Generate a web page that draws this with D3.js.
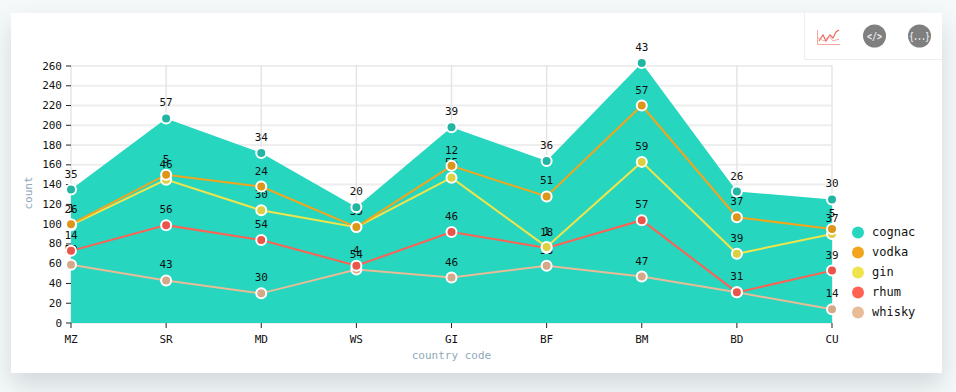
<!DOCTYPE html>
<html>
<head>
<meta charset="utf-8">
<script src="https://cdnjs.cloudflare.com/ajax/libs/d3/7.8.5/d3.min.js"></script>
<style>
html, body { margin: 0; padding: 0; width: 956px; height: 392px; overflow: hidden; background: #f5f9fa; }
#card { position: absolute; left: 11px; top: 13px; width: 931px; height: 360px; background: #fff;
        box-shadow: 0 12px 24px rgba(70, 85, 90, .2); }
svg { position: absolute; left: 0; top: 0; }
text { font-family: "DejaVu Sans Mono", monospace; }
</style>
</head>
<body>
<div id="card"></div>
<svg id="chart" width="956" height="392"></svg>
<script>
// values, the lines are stacked from whisky upwards
const countries = ["MZ", "SR", "MD", "WS", "GI", "BF", "BM", "BD", "CU"];
const whisky = [59, 43, 30, 54, 46, 58, 47, 31, 14];
const rhum   = [14, 56, 54, 4, 46, 18, 57, 0, 39];
const gin    = [26, 46, 30, 39, 55, 1, 59, 39, 37];
const vodka  = [1, 5, 24, 0, 12, 51, 57, 37, 5];
const cognac = [35, 57, 34, 20, 39, 36, 43, 26, 30];

const yTicks = d3.range(0, 261, 20);
const legendNames = ["cognac", "vodka", "gin", "rhum", "whisky"];
const stackOrder = ["whisky", "rhum", "gin", "vodka", "cognac"];
const colors = {cognac: "#26d6bf", vodka: "#f2a51d", gin: "#f0e44c", rhum: "#ff6153", whisky: "#e8bc97"};
const pointColors = {cognac: "#22b5a3", vodka: "#dc971b", gin: "#dccf40", rhum: "#ea544b", whisky: "#d4a98a"};

const rows = countries.map((c, i) => ({
    country: c, whisky: whisky[i], rhum: rhum[i], gin: gin[i], vodka: vodka[i], cognac: cognac[i]
}));
const series = d3.stack().keys(stackOrder)(rows);

const svg = d3.select("#chart");
const x = d3.scalePoint().domain(countries).range([71, 832]);
const y = d3.scaleLinear().domain([0, 260]).range([323, 66]);

// grid
svg.append("g").selectAll("line").data(yTicks).join("line")
    .attr("x1", 71).attr("x2", 832)
    .attr("y1", d => y(d)).attr("y2", d => y(d))
    .attr("stroke", "#eeeeee").attr("stroke-width", 2);
svg.append("g").selectAll("line").data(countries).join("line")
    .attr("x1", d => x(d)).attr("x2", d => x(d))
    .attr("y1", 65).attr("y2", 323)
    .attr("stroke", "#e4e4e4").attr("stroke-width", 1.4);

// only the top layer has a fill, it reaches down to zero
const topLayer = series[series.length - 1];
svg.append("path")
    .datum(topLayer)
    .attr("fill", colors.cognac)
    .attr("d", d3.area()
        .x(d => x(d.data.country))
        .y0(y(0))
        .y1(d => y(d[1])));

// axes
const xAxis = svg.append("g").attr("transform", "translate(0,323)")
    .call(d3.axisBottom(x).tickSize(5).tickPadding(7).offset(0));
const yAxis = svg.append("g").attr("transform", "translate(71,0)")
    .call(d3.axisLeft(y).tickValues(yTicks).tickSize(5).tickPadding(4).offset(0));
[xAxis, yAxis].forEach(a => {
    a.select(".domain").remove();
    a.selectAll("text").attr("font-size", 11).attr("font-family", "DejaVu Sans Mono").attr("fill", "#111");
    a.selectAll("line").attr("stroke", "#222");
});

svg.append("text").attr("x", 451.5).attr("y", 359).attr("text-anchor", "middle")
    .attr("font-size", 11).attr("fill", "#8fa9ba").text("country code");
svg.append("text").attr("transform", "translate(32,193) rotate(-90)").attr("text-anchor", "middle")
    .attr("font-size", 11).attr("fill", "#8fa9ba").text("count");

// lines
const line = d3.line().x(d => x(d.data.country)).y(d => y(d[1]));
series.forEach(s => {
    if (s.key === "cognac") return;
    svg.append("path").datum(s)
        .attr("fill", "none")
        .attr("stroke", colors[s.key])
        .attr("stroke-width", 2)
        .attr("d", line);
});

// value labels sit under the points, so neighbours hide some of them
series.forEach(s => {
    svg.append("g").selectAll("text").data(s.filter(d => d[1] > d[0])).join("text")
        .attr("x", d => x(d.data.country))
        .attr("y", d => y(d[1]) - 12)
        .attr("text-anchor", "middle")
        .attr("font-size", 11)
        .attr("fill", "#111")
        .text(d => d[1] - d[0]);
});

series.forEach(s => {
    svg.append("g").selectAll("circle").data(s).join("circle")
        .attr("cx", d => x(d.data.country))
        .attr("cy", d => y(d[1]))
        .attr("r", 5)
        .attr("fill", pointColors[s.key])
        .attr("stroke", "#fff")
        .attr("stroke-width", 2);
});

// legend
const legendY = d3.scalePoint().domain(legendNames).range([232.5, 312.5]);
const legend = svg.append("g").selectAll("g").data(legendNames).join("g")
    .attr("transform", d => "translate(858," + legendY(d) + ")");
legend.append("circle").attr("r", 6).attr("fill", d => colors[d]);
legend.append("text").attr("x", 14).attr("y", 3).attr("font-size", 12).attr("fill", "#111").text(d => d);

// toolbox top right
const tools = svg.append("g");
tools.append("path").attr("d", "M804.5 13V59.5H942").attr("fill", "none").attr("stroke", "#eee");
tools.append("path").attr("d", "M817.5 30V44.5H840").attr("fill", "none").attr("stroke", "#f6a9a0").attr("stroke-width", 1);
tools.append("path").attr("d", "M819 41L823 35L826 41L830 35L833 38L836 32L839 30")
    .attr("fill", "none").attr("stroke", "#ee6a5f").attr("stroke-width", 1.2);
tools.append("path").attr("d", "M818 38L824 41L829 36L833 41L839 39")
    .attr("fill", "none").attr("stroke", "#f39a90").attr("stroke-width", 0.8);
[[874.5, "</>"], [919.5, "{...}"]].forEach(t => {
    tools.append("circle").attr("cx", t[0]).attr("cy", 36).attr("r", 11.5).attr("fill", "#7f7f7f");
    tools.append("text").attr("x", t[0]).attr("y", 39.5).attr("text-anchor", "middle")
        .attr("font-size", 10).attr("font-weight", "bold").attr("fill", "#eee")
        .attr("textLength", t[1].length > 3 ? 20 : 15).attr("lengthAdjust", "spacingAndGlyphs").text(t[1]);
});
</script>
</body>
</html>
